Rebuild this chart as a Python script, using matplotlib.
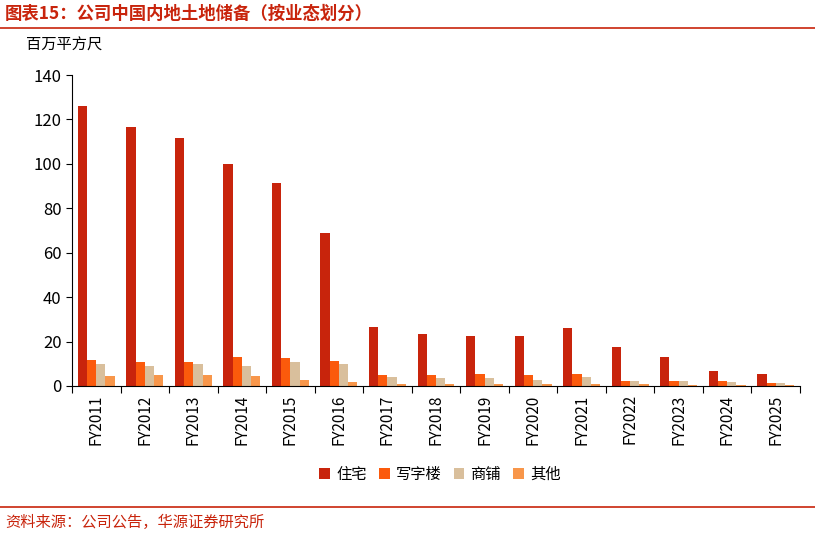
import matplotlib
matplotlib.use("Agg")
import matplotlib.pyplot as plt
import numpy as np

plt.rcParams['font.family'] = ['Noto Sans CJK SC', 'DejaVu Sans']

years = ["FY2011","FY2012","FY2013","FY2014","FY2015","FY2016","FY2017","FY2018",
         "FY2019","FY2020","FY2021","FY2022","FY2023","FY2024","FY2025"]
residential = [126,116.5,111.5,100,91.5,69,26.5,23.2,22.7,22.3,26.3,17.4,12.9,6.9,5.2]
office = [11.8,10.6,10.9,13,12.6,11.2,5.1,5.1,5.5,4.9,5.4,2.4,2.3,2.2,1.5]
retail = [10,8.9,10,9.2,10.9,10,4.2,3.8,3.8,2.8,4.2,2.2,2.2,1.7,1.2]
other = [4.5,4.9,4.9,4.3,2.5,1.8,0.8,0.8,0.8,1.1,0.9,0.8,0.5,0.3,0.3]
series = [("住宅", residential, "#c8240c"), ("写字楼", office, "#fb5a0c"),
          ("商铺", retail, "#d9bf9c"), ("其他", other, "#f8964a")]

fig = plt.figure(figsize=(8.15, 5.37), dpi=100)
ax = fig.add_axes([72/815, 1-386/537, 728/815, 311/537])
x = np.arange(len(years))
w = 0.19
for i, (name, vals, c) in enumerate(series):
    ax.bar(x + (i - 1.5) * w, vals, w, color=c, label=name)
ax.set_xlim(-0.5, len(years) - 0.5)
ax.set_ylim(0, 140)
ax.set_yticks(range(0, 141, 20))
ax.set_xticks(np.arange(-0.5, len(years), 1), minor=False, labels=[""] * (len(years) + 1))
ax.set_xticks(x, labels=years, minor=True, rotation=90, fontsize=11)
ax.tick_params(axis='x', which='minor', length=0, pad=6)
ax.tick_params(axis='x', which='major', length=5, direction='out')
ax.tick_params(axis='y', labelsize=12, length=4)
for s in ["top", "right"]:
    ax.spines[s].set_visible(False)
fig.text(26/815, 1-45/537, "百万平方尺", fontsize=11, va="center")
fig.text(5/815, 1-14/537, "图表15：公司中国内地土地储备（按业态划分）", fontsize=12.5,
         color="#c8240c", fontweight="bold", va="center")
fig.add_artist(plt.Line2D([0, 1], [1-28/537]*2, color="#c8240c", lw=1.2))
fig.add_artist(plt.Line2D([0, 1], [1-507/537]*2, color="#c8240c", lw=1.2))
fig.text(5/815, 1-522/537, "资料来源：公司公告，华源证券研究所", fontsize=11,
         color="#c8240c", va="center")
fig.legend(loc="center", bbox_to_anchor=(440/815, 1-474/537), ncol=4, frameon=False,
           fontsize=11, handlelength=0.7, handleheight=0.7, columnspacing=0.8, handletextpad=0.4)
fig.savefig("out.png", dpi=100)
